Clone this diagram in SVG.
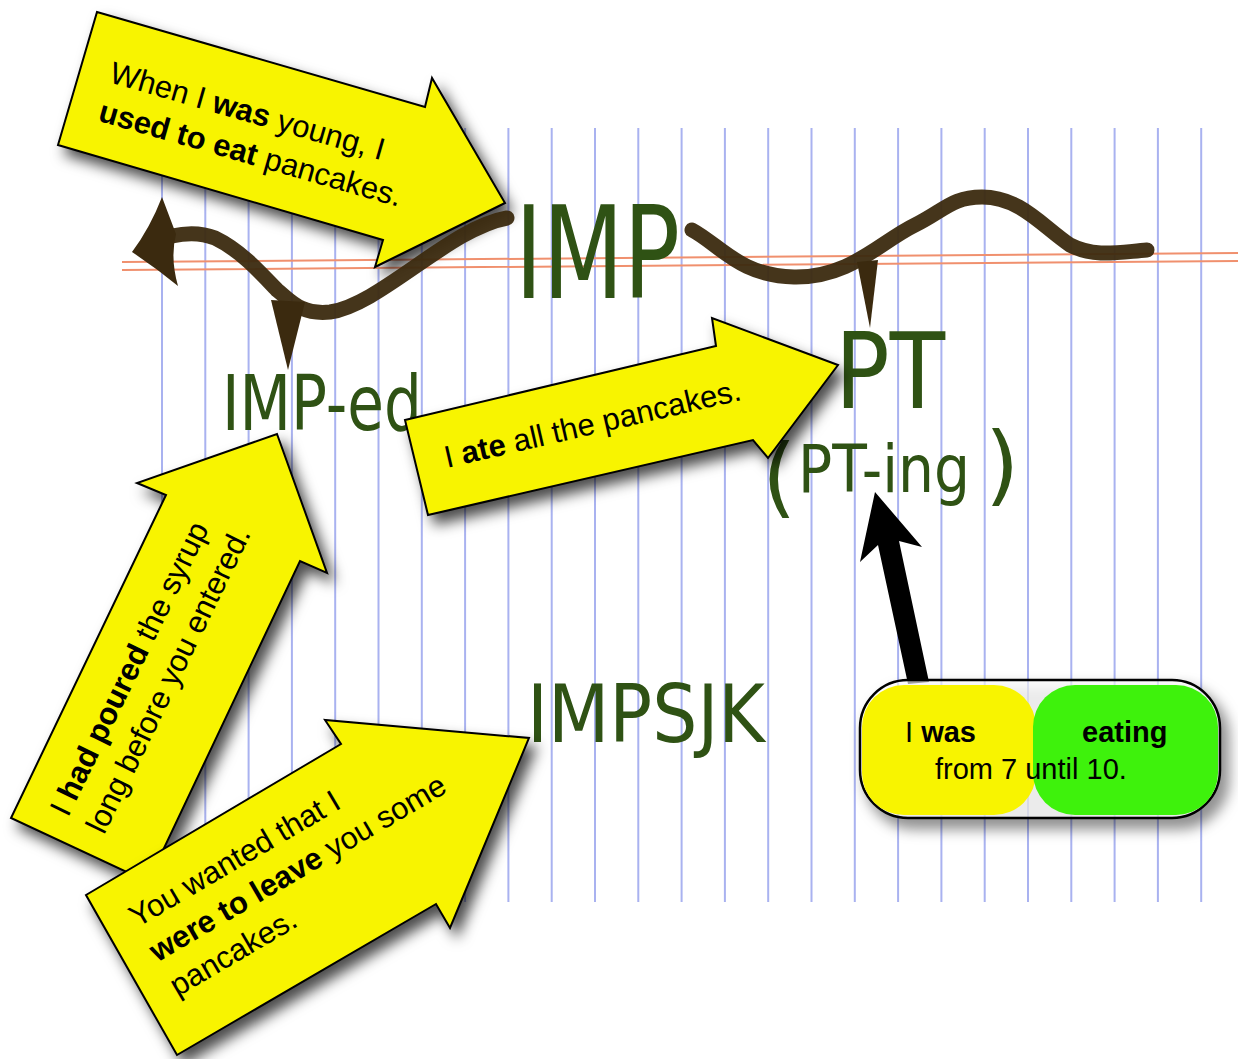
<svg xmlns="http://www.w3.org/2000/svg" width="1238" height="1059" viewBox="0 0 1238 1059">
<style>
.note{font-family:"Liberation Sans",Arial,sans-serif;font-size:31px;fill:#000}
.b{font-weight:bold}
.hand{font-family:"DejaVu Sans",sans-serif;fill:#2f5214}
.arrow{fill:#f8f400;stroke:#000;stroke-width:2;stroke-linejoin:miter}
.marker{fill:none;stroke:#3b2a0f;stroke-width:15;stroke-linecap:round;stroke-linejoin:round;opacity:0.95}
</style>
<defs>
<filter id="sh" x="-25%" y="-25%" width="160%" height="160%">
<feDropShadow dx="7" dy="9" stdDeviation="7" flood-color="#000" flood-opacity="0.7"/>
</filter>
</defs>
<rect width="1238" height="1059" fill="#fff"/>
<g id="paper">
<path stroke="#a9b2f0" stroke-width="2" fill="none" d="M162,128V902M205.3,128V902M248.6,128V902M291.9,128V902M335.2,128V902M378.5,128V902M421.8,128V902M465.1,128V902M508.4,128V902M551.7,128V902M595,128V902M638.3,128V902M681.6,128V902M724.9,128V902M768.2,128V902M811.5,128V902M854.8,128V902M898.1,128V902M941.4,128V902M984.7,128V902M1028,128V902M1071.3,128V902M1114.6,128V902M1157.9,128V902M1201.2,128V902"/>
<path stroke="#f0906e" stroke-width="2" fill="none" d="M122,262L1238,253M122,270L1238,261"/>
</g>
<g id="arrow-imp">
<polygon class="arrow" filter="url(#sh)" points="97,12 425,107 432,78 505,203 375,267 383,240 58,145"/>
<text class="note" transform="translate(108,82) rotate(16)"><tspan x="0" y="0">When I <tspan class="b">was</tspan> young, I</tspan><tspan x="0" y="40"><tspan class="b">used to eat</tspan> pancakes.</tspan></text>
</g>
<g id="connectors">
<path class="marker" d="M507,218 C450,228 380,305 330,312 C300,315 290,300 277,290 C260,272 240,250 215,238 C200,232 185,233 172,236"/>
<path fill="#3b2a0f" d="M162,197 Q150,228 132,252 Q156,268 178,286 Q170,258 176,234 Z"/>
<path fill="#3b2a0f" d="M271,300 L305,302 L288,370 Z"/>
<path class="marker" d="M692,230 C720,245 740,276 794,277 C850,278 880,242 915,225 C945,210 952,197 982,197 C1020,197 1042,226 1070,245 C1095,258 1120,252 1147,250"/>
<path fill="#3b2a0f" d="M857,262 L878,260 L870,328 Z"/>
<polygon fill="#000" points="875,492 922,547 899,541 929,682 908,684 878,545 860,562"/>
</g>
<g id="imp"><text class="hand" x="515" y="298" font-size="128" textLength="165" lengthAdjust="spacingAndGlyphs" fill="#2b4a11">IMP</text></g>
<g id="imp-ed"><text class="hand" x="222" y="430" font-size="76" textLength="200" lengthAdjust="spacingAndGlyphs" fill="#2d5a14">IMP-ed</text></g>
<g id="pt"><text class="hand" x="835" y="408" font-size="105" textLength="110" lengthAdjust="spacingAndGlyphs" fill="#2b4a11">PT</text></g>
<g id="pt-ing">
<text class="hand" x="762" y="506" font-size="88" fill="#4a3a18">(</text>
<text class="hand" transform="translate(798,492) scale(0.86,1)" font-size="66" fill="#3a6a1c">PT-ing</text>
<text class="hand" x="985" y="494" font-size="88" fill="#4a3a18">)</text>
</g>
<g id="impsjk"><text class="hand" x="527" y="742" font-size="80" textLength="238" lengthAdjust="spacingAndGlyphs" fill="#356a18">IMPSJK</text></g>
<g id="arrow-pt">
<polygon class="arrow" filter="url(#sh)" points="405,420 716,346 712,318 838,365 768,458 753,440 428,515"/>
<text class="note" transform="translate(447,468) rotate(-13)">I <tspan class="b">ate</tspan> all the pancakes.</text>
</g>
<g id="arrow-imped">
<polygon class="arrow" filter="url(#sh)" points="277,434 327,573 300,561 148,882 11,818 166,495 137,483"/>
<text class="note" transform="translate(68,818) rotate(-64)"><tspan x="0" y="0">I <tspan class="b">had poured</tspan> the syrup</tspan><tspan x="0" y="40">long before you entered.</tspan></text>
</g>
<g id="arrow-impsjk">
<polygon class="arrow" filter="url(#sh)" points="86,895 341,744 325,720 529,738 450,928 436,904 177,1055"/>
<text class="note" transform="translate(137,928) rotate(-30.4)"><tspan x="0" y="0">You wanted that I</tspan><tspan x="0" y="40"><tspan class="b">were to leave</tspan> you some</tspan><tspan x="0" y="80">pancakes.</tspan></text>
</g>
<g id="box">
<rect x="860" y="680" width="360" height="138" rx="48" fill="#fff" fill-opacity="0.6" stroke="#000" stroke-width="2.5" filter="url(#sh)"/>
<rect x="862" y="685" width="174" height="130" rx="42" fill="#f8f400"/>
<rect x="1033" y="685" width="185" height="130" rx="42" fill="#3ef20c"/>
<text class="note" style="font-size:29px" x="905" y="742">I <tspan class="b">was</tspan></text>
<text class="note b" style="font-size:29px" x="1082" y="742">eating</text>
<text class="note" style="font-size:29px" x="935" y="779">from 7 until 10.</text>
</g>
</svg>
